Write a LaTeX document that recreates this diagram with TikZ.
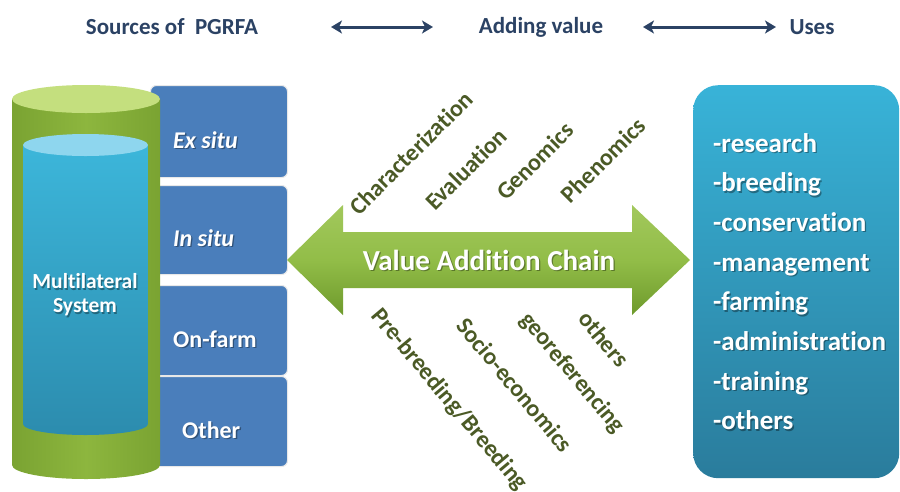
\documentclass[tikz,border=0pt]{standalone}
\usepackage{fontspec}
\setmainfont{Carlito}[RawFeature={-liga;-clig;-calt;-dlig}]
\usetikzlibrary{arrows.meta,calc}
\definecolor{navy}{HTML}{2B4264}
\definecolor{boxblue}{HTML}{4A7EBB}
\definecolor{olive}{HTML}{4B5A26}
\definecolor{gtop}{HTML}{C4DF7E}
\definecolor{gbody}{HTML}{8DB63E}
\definecolor{gdark}{HTML}{7AA332}
\definecolor{btop}{HTML}{8ED6EE}
\definecolor{bbody}{HTML}{3CB6DA}
\definecolor{bdark}{HTML}{2C8CAE}
\definecolor{atop}{HTML}{A2C85C}
\definecolor{amid}{HTML}{92BD48}
\definecolor{abot}{HTML}{6E9A2C}
\definecolor{utop}{HTML}{38B3D8}
\definecolor{ubot}{HTML}{2A7C9C}
\tikzset{
  hdr/.style={text=navy,font=\bfseries\fontsize{23}{26}\selectfont,inner sep=0pt},
  harrow/.style={draw=navy,line width=3pt,{Stealth[length=11pt,width=13pt,inset=3pt]}-{Stealth[length=11pt,width=13pt,inset=3pt]}},
  srcbox/.style={fill=boxblue,draw=white!82!gray,line width=1pt,rounded corners=6pt,anchor=north west,minimum width=137pt,inner sep=0pt},
  wtext/.style={text=white,font=\bfseries\fontsize{24}{27}\selectfont,inner sep=0pt},
  witext/.style={wtext,font=\bfseries\itshape\fontsize{24}{27}\selectfont},
  ltext/.style={text=olive,font=\bfseries\fontsize{24}{27}\selectfont,inner sep=0pt},
  usetext/.style={text=white,font=\bfseries\fontsize{27}{30}\selectfont,inner sep=0pt,anchor=base west},
}
\newcommand{\shnode}[4]{%
  \node[#1,text=black,opacity=.35] at ($(#3)+(1.3,1.3)$) {#4};
  \node[#1] (#2) at (#3) {#4};}
\begin{document}
\begin{tikzpicture}[x=1pt,y=-1pt]
\useasboundingbox[fill=white] (0,0) rectangle (900,491);
% header
\node[hdr] (src) at (172,27) {Sources of\ \ PGRFA};
\node[hdr] (add) at (541,27) {Adding value};
\node[hdr] (use) at (812,27) {Uses};
\coordinate (a1l) at (331,27);
\coordinate (a1r) at (433,27);
\coordinate (a2l) at (643,27);
\coordinate (a2r) at (776,27);
\draw[harrow] (a1l) -- (a1r);
\draw[harrow] (a2l) -- (a2r);
% source boxes
\node[srcbox,minimum height=92pt] (b1) at (150,85) {};
\node[srcbox,minimum height=89pt] (b2) at (150,185) {};
\node[srcbox,minimum height=90pt] (b3) at (150,285) {};
\node[srcbox,minimum height=90pt] (b4) at (150,376) {};
% cylinder outer
\path[left color=gdark,right color=gdark,middle color=gbody]
  (12,99) -- (12,465) arc[start angle=180,end angle=360,x radius=74pt,y radius=14pt] -- (160,99) -- cycle;
\path[fill=gtop] (86,99) ellipse[x radius=74pt,y radius=14pt];
% cylinder inner
\path[top color=bbody,bottom color=bdark]
  (23,145) -- (23,424) arc[start angle=180,end angle=360,x radius=62.5pt,y radius=11pt] -- (148,145) -- cycle;
\path[fill=btop] (85.5,145) ellipse[x radius=62.5pt,y radius=11pt];
\coordinate (mlpos) at (85,295);
\shnode{wtext,align=center,font=\bfseries\fontsize{21.5}{24}\selectfont}{ml}{mlpos}{Multilateral\\System}
% box texts
\coordinate (t1) at (173,140);
\coordinate (t2) at (173,238);
\coordinate (t3) at (173,339);
\coordinate (t4) at (182,430);
\shnode{witext,anchor=west}{ex}{t1}{Ex situ}
\shnode{witext,anchor=west}{in}{t2}{In situ}
\shnode{wtext,anchor=west}{on}{t3}{On-farm}
\shnode{wtext,anchor=west}{ot}{t4}{Other}
% green double arrow
\path[top color=atop,bottom color=abot,middle color=amid]
  (287,260) -- (343,205) -- (343,232) -- (632,232) -- (632,205) -- (690,260)
  -- (632,315) -- (632,288) -- (343,288) -- (343,315) -- cycle;
\coordinate (vacpos) at (489,260);
\shnode{wtext,font=\bfseries\fontsize{29}{32}\selectfont}{vac}{vacpos}{Value Addition Chain}
% upper labels
\node[ltext,rotate=45] (l1) at (411,153) {Characterization};
\node[ltext,rotate=45] (l2) at (466,169) {Evaluation};
\node[ltext,rotate=45] (l3) at (535,161) {Genomics};
\node[ltext,rotate=45] (l4) at (603,160) {Phenomics};
% lower labels
\node[ltext,rotate=-50] (l5) at (449,400) {Pre-breeding/Breeding};
\node[ltext,rotate=-50] (l6) at (515,385) {Socio-economics};
\node[ltext,rotate=-50] (l7) at (572,373) {georeferencing};
\node[ltext,rotate=-50] (l8) at (604,339) {others};
% uses box
\node[top color=utop,bottom color=ubot,rounded corners=25pt,anchor=north west,
  minimum width=206pt,minimum height=393pt,inner sep=0pt] (uses) at (693,85) {};
\foreach \t [count=\i] in {-research,-breeding,-conservation,-management,-farming,-administration,-training,-others}{
  \coordinate (up\i) at (713,{152+39.7*(\i-1)});
  \shnode{usetext}{u\i}{up\i}{\t}
}
\end{tikzpicture}
\end{document}
